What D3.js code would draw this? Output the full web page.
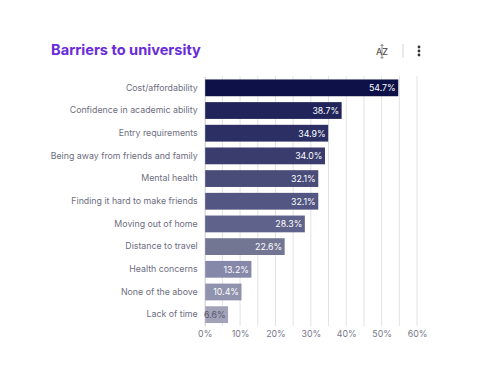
<!DOCTYPE html>
<html>
<head>
<meta charset="utf-8">
<script src="https://cdn.jsdelivr.net/npm/d3@7"></script>
<style>
  body { margin: 0; background: #fff; }
  text { font-family: Inter, "Open Sans", sans-serif; }
</style>
</head>
<body>
<svg id="chart" width="480" height="390"></svg>
<script>
const categories = ["Cost/affordability", "Confidence in academic ability", "Entry requirements",
  "Being away from friends and family", "Mental health", "Finding it hard to make friends",
  "Moving out of home", "Distance to travel", "Health concerns", "None of the above", "Lack of time"];
const values = [54.7, 38.7, 34.9, 34.0, 32.1, 32.1, 28.3, 22.6, 13.2, 10.4, 6.6];
const barColors = ["#0d1147", "#20245a", "#2b2f63", "#393c6d", "#494b78", "#535682",
  "#5f628a", "#737693", "#8588a8", "#9092ae", "#a2a3b8"];
const tickValues = [0, 10, 20, 30, 40, 50, 60];
const gridValues = [5, 10, 15, 20, 25, 30, 35, 40, 45, 50, 55, 60];

const svg = d3.select("#chart");

const x = d3.scaleLinear().domain([0, 60]).range([204.7, 417]);
const y = d3.scaleBand().domain(categories).range([76.5, 326]).paddingInner(0.26).paddingOuter(0.13);

// title
svg.append("text")
  .attr("x", 51).attr("y", 55)
  .attr("font-size", 14.6).attr("font-weight", 700)
  .attr("fill", "#6a2bd9")
  .text("Barriers to university");

// sort icon and menu
svg.append("text")
  .attr("x", 382).attr("y", 55)
  .attr("text-anchor", "middle")
  .attr("font-size", 9).attr("font-weight", 500)
  .attr("fill", "#555")
  .text("AZ");
svg.append("path")
  .attr("d", "M382 44.5V58M380.5 46L382 44.5L383.5 46M380.5 57L382 58.5L383.5 57")
  .attr("fill", "none")
  .attr("stroke", "#555")
  .attr("stroke-width", 0.7);
svg.append("line")
  .attr("x1", 403).attr("x2", 403).attr("y1", 44).attr("y2", 58)
  .attr("stroke", "#d5d5d5");
svg.selectAll(".menu-dot")
  .data([47, 51, 55])
  .join("circle")
  .attr("class", "menu-dot")
  .attr("cx", 419).attr("cy", d => d).attr("r", 1.4)
  .attr("fill", "#333");

// grid
svg.append("g").selectAll("line")
  .data(gridValues)
  .join("line")
  .attr("x1", d => x(d)).attr("x2", d => x(d))
  .attr("y1", 76).attr("y2", 326)
  .attr("stroke", "#e2e2e6");

// x axis
const xAxis = svg.append("g")
  .attr("transform", "translate(0,326)")
  .call(d3.axisBottom(x).tickValues(tickValues).tickFormat(d => d + "%").tickSize(0).tickPadding(5));
xAxis.select(".domain").remove();
xAxis.selectAll("text").attr("font-size", 8.8).attr("fill", "#77778a");

// y axis
const yAxis = svg.append("g")
  .attr("transform", "translate(204.7,0)")
  .call(d3.axisLeft(y).tickSize(0).tickPadding(7));
yAxis.select(".domain").attr("stroke", "#c8c8ce");
yAxis.selectAll("text").attr("font-size", 8.8).attr("fill", "#6e6e80");

// bars
svg.append("g").selectAll("rect")
  .data(values)
  .join("rect")
  .attr("x", x(0) + 0.5)
  .attr("y", (d, i) => y(categories[i]))
  .attr("width", d => x(d) - x(0) - 0.5)
  .attr("height", y.bandwidth())
  .attr("fill", (d, i) => barColors[i]);

// value labels
svg.append("g").selectAll("text")
  .data(values)
  .join("text")
  .attr("x", d => x(d) - 2.5)
  .attr("y", (d, i) => y(categories[i]) + y.bandwidth() / 2 + 3.3)
  .attr("text-anchor", "end")
  .attr("font-size", 8.8)
  .attr("fill", d => d < 10 ? "#55566e" : "#fff")
  .text(d => d.toFixed(1) + "%");
</script>
</body>
</html>
